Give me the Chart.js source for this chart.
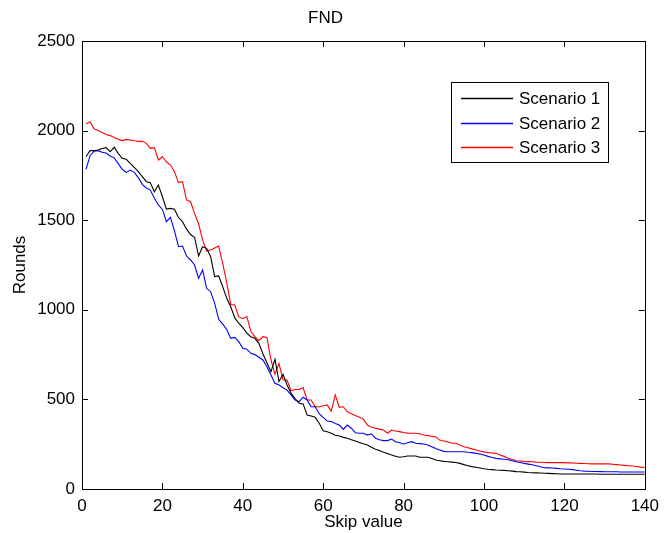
<!DOCTYPE html>
<html>
<head>
<meta charset="utf-8">
<script src="https://cdn.jsdelivr.net/npm/chart.js@4.4.0/dist/chart.umd.min.js"></script>
<style>
  body { margin: 0; background: #fff; }
  canvas { display: block; }
</style>
</head>
<body>
<canvas id="fndChart" width="666" height="533"></canvas>
<script>
// Valores (FND por skip value)
const skipValues = Array.from({ length: 140 }, (_, i) => i + 1);
const xTicks = [0, 20, 40, 60, 80, 100, 120, 140];
const yTicks = [0, 500, 1000, 1500, 2000, 2500];
const seriesLabels = ['Scenario 1', 'Scenario 2', 'Scenario 3'];

const scenario1 = [
    1854, 1888, 1888, 1892, 1900, 1905, 1882, 1907, 1873, 1845,
    1840, 1817, 1795, 1771, 1743, 1715, 1709, 1659, 1696, 1631,
    1562, 1566, 1561, 1515, 1492, 1450, 1420, 1405, 1300, 1352,
    1343, 1296, 1185, 1189, 1129, 1064, 1017, 955, 925, 900,
    870, 850, 841, 813, 755, 705, 655, 724, 600, 640,
    580, 535, 505, 478, 475, 413, 407, 400, 367, 325,
    320, 311, 300, 296, 288, 283, 275, 268, 260, 252,
    246, 233, 222, 215, 205, 198, 190, 183, 177, 180,
    184, 184, 184, 177, 177, 177, 170, 162, 158, 154,
    152, 150, 148, 143, 136, 130, 125, 121, 117, 113,
    110, 108, 106, 105, 104, 102, 100, 97, 96, 94,
    92, 91, 90, 89, 88, 87, 86, 85, 84, 84,
    84, 84, 84, 84, 84, 84, 84, 84, 82, 82,
    82, 82, 82, 82, 82, 82, 82, 82, 82, 82
];

const scenario2 = [
    1784, 1860, 1885, 1888, 1879, 1875, 1858, 1848, 1817, 1784,
    1767, 1780, 1767, 1738, 1700, 1680, 1668, 1622, 1585, 1560,
    1492, 1516, 1440, 1352, 1356, 1300, 1278, 1250, 1176, 1222,
    1120, 1101, 1036, 947, 920, 890, 841, 846, 822, 785,
    780, 757, 750, 735, 720, 682, 636, 590, 580, 565,
    552, 525, 497, 487, 512, 497, 459, 459, 420, 400,
    379, 376, 365, 357, 333, 357, 339, 314, 311, 311,
    301, 308, 283, 275, 270, 270, 279, 264, 258, 251,
    258, 264, 255, 253, 251, 246, 236, 226, 218, 210,
    208, 208, 208, 208, 208, 205, 203, 199, 195, 190,
    182, 176, 171, 168, 166, 163, 158, 152, 148, 143,
    139, 135, 130, 124, 119, 118, 117, 115, 113, 112,
    110, 108, 105, 102, 100, 99, 98, 98, 97, 96,
    96, 96, 96, 95, 95, 95, 95, 95, 95, 95
];

const scenario3 = [
    2037, 2050, 2010, 2000, 1990, 1978, 1972, 1962, 1952, 1944,
    1951, 1948, 1943, 1940, 1940, 1929, 1901, 1905, 1836, 1854,
    1826, 1808, 1771, 1710, 1715, 1613, 1603, 1538, 1480, 1390,
    1328, 1334, 1345, 1356, 1259, 1150, 1030, 1027, 960, 950,
    962, 880, 850, 828, 850, 846, 720, 640, 700, 610,
    608, 548, 555, 556, 565, 497, 497, 459, 459, 465,
    469, 435, 525, 456, 459, 431, 420, 410, 400, 390,
    357, 344, 339, 334, 329, 311, 329, 324, 320, 315,
    312, 311, 311, 308, 301, 298, 294, 290, 273, 268,
    262, 255, 255, 245, 236, 230, 224, 218, 212, 207,
    203, 201, 199, 190, 182, 172, 165, 158, 156, 154,
    153, 152, 150, 149, 148, 147, 147, 147, 147, 147,
    146, 145, 144, 143, 142, 141, 140, 140, 140, 140,
    140, 138, 136, 134, 132, 130, 128, 126, 122, 120
];

const seriesColors = ['#000000', '#0000ff', '#ff0000'];
const fontFamily = '"Liberation Sans", Arial, sans-serif';

function toPoints(values) {
    return values.map((v, i) => ({ x: skipValues[i], y: v }));
}

// Caixa do eixo com ticks para dentro (estilo MATLAB)
const axesBoxPlugin = {
    id: 'axesBox',
    afterDatasetsDraw(chart) {
        const { ctx, chartArea: a, scales } = chart;
        const len = 6;
        ctx.save();
        ctx.strokeStyle = '#000';
        ctx.lineWidth = 1;
        ctx.beginPath();
        xTicks.forEach(t => {
            const px = Math.round(scales.x.getPixelForValue(t)) + 0.5;
            ctx.moveTo(px, a.bottom); ctx.lineTo(px, a.bottom - len);
            ctx.moveTo(px, a.top); ctx.lineTo(px, a.top + len);
        });
        yTicks.forEach(t => {
            const py = Math.round(scales.y.getPixelForValue(t)) + 0.5;
            ctx.moveTo(a.left, py); ctx.lineTo(a.left + len, py);
            ctx.moveTo(a.right, py); ctx.lineTo(a.right - len, py);
        });
        ctx.stroke();
        ctx.strokeRect(Math.round(a.left) + 0.5, Math.round(a.top) + 0.5,
            Math.round(a.right - a.left), Math.round(a.bottom - a.top));
        ctx.restore();
    }
};

// Legenda dentro da área do gráfico
const boxLegendPlugin = {
    id: 'boxLegend',
    afterDraw(chart) {
        const ctx = chart.ctx;
        const x0 = 451, y0 = 82, w = 157, h = 80;
        ctx.save();
        ctx.fillStyle = '#fff';
        ctx.fillRect(x0, y0, w, h);
        ctx.strokeStyle = '#000';
        ctx.lineWidth = 1;
        ctx.strokeRect(x0 + 0.5, y0 + 0.5, w, h);
        ctx.font = '17px ' + fontFamily;
        ctx.textBaseline = 'middle';
        seriesLabels.forEach((label, i) => {
            const y = Math.round(y0 + 16 + i * 24.5) + 0.5;
            ctx.beginPath();
            ctx.strokeStyle = seriesColors[i];
            ctx.lineWidth = 1.5;
            ctx.moveTo(461, y);
            ctx.lineTo(513, y);
            ctx.stroke();
            ctx.fillStyle = '#000';
            ctx.fillText(label, 519, y + 1);
        });
        ctx.restore();
    }
};

const ctx = document.getElementById('fndChart').getContext('2d');
const fndChart = new Chart(ctx, {
    type: 'line',
    data: {
        datasets: [scenario1, scenario2, scenario3].map((values, i) => ({
            label: seriesLabels[i],
            data: toPoints(values),
            borderColor: seriesColors[i],
            borderWidth: 1.1,
            pointRadius: 0,
            tension: 0,
            fill: false
        }))
    },
    options: {
        responsive: false,
        animation: false,
        devicePixelRatio: 1,
        layout: { padding: { left: 0, right: 15, top: 0, bottom: 0 } },
        plugins: {
            legend: { display: false },
            tooltip: { enabled: false },
            title: {
                display: true,
                text: 'FND',
                color: '#000',
                font: { family: fontFamily, size: 17, weight: 'normal' },
                padding: { top: 8, bottom: 12.6 }
            }
        },
        scales: {
            x: {
                type: 'linear',
                min: 0,
                max: 140,
                afterBuildTicks: scale => { scale.ticks = xTicks.map(v => ({ value: v })); },
                afterFit: scale => { scale.height = 44; },
                grid: { display: false, drawTicks: false },
                border: { display: false },
                ticks: {
                    color: '#000',
                    padding: 7,
                    maxRotation: 0,
                    callback: value => String(value),
                    font: { family: fontFamily, size: 17 }
                },
                title: {
                    display: true,
                    text: 'Skip value',
                    color: '#000',
                    font: { family: fontFamily, size: 17 },
                    padding: { top: 0, bottom: 0 }
                }
            },
            y: {
                min: 0,
                max: 2500,
                afterBuildTicks: scale => { scale.ticks = yTicks.map(v => ({ value: v })); },
                afterFit: scale => { scale.width = 82; },
                grid: { display: false, drawTicks: false },
                border: { display: false },
                ticks: {
                    color: '#000',
                    padding: 7,
                    callback: value => String(value),
                    font: { family: fontFamily, size: 17 }
                },
                title: {
                    display: true,
                    text: 'Rounds',
                    color: '#000',
                    font: { family: fontFamily, size: 17 },
                    padding: { top: 10, bottom: 0 }
                }
            }
        }
    },
    plugins: [axesBoxPlugin, boxLegendPlugin]
});
</script>
</body>
</html>
